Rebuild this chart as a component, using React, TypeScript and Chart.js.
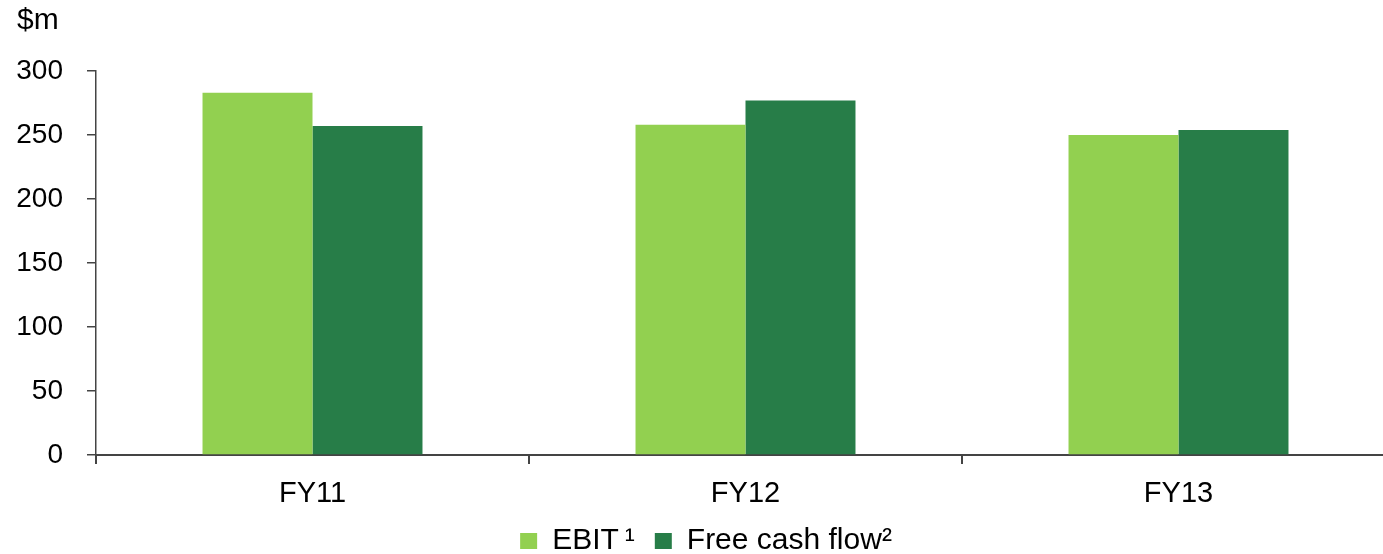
import React, { useEffect, useRef } from "react";
import { Chart, registerables } from "chart.js";

Chart.register(...registerables);

const categories = ["FY11", "FY12", "FY13"];
const ebit = [283, 258, 250];
const freeCashFlow = [257, 277, 254];
const yTicks = [0, 50, 100, 150, 200, 250, 300];

const FONT = "'Liberation Sans', Arial, sans-serif";

export default function App() {
  const ref = useRef<HTMLCanvasElement | null>(null);

  useEffect(() => {
    if (!ref.current) return;
    const chart = new Chart(ref.current, {
      type: "bar",
      data: {
        labels: categories,
        datasets: [
          {
            label: "EBIT\u2009\u00B9",
            data: ebit,
            backgroundColor: "#92D050",
            borderWidth: 0,
            categoryPercentage: 0.508,
            barPercentage: 1,
          },
          {
            label: "Free cash flow\u00B2",
            data: freeCashFlow,
            backgroundColor: "#277D48",
            borderWidth: 0,
            categoryPercentage: 0.508,
            barPercentage: 1,
          },
        ],
      },
      options: {
        animation: false,
        responsive: true,
        maintainAspectRatio: false,
        layout: { padding: { left: 17, right: 5, top: 0, bottom: 0 } },
        plugins: {
          tooltip: { enabled: false },
          title: {
            display: true,
            text: "$m",
            align: "start",
            color: "#000",
            font: { family: FONT, size: 30, weight: "normal" },
            padding: { top: 3, bottom: 32 },
          },
          legend: {
            display: true,
            position: "bottom",
            labels: {
              color: "#000",
              font: { family: FONT, size: 30 },
              boxWidth: 17,
              boxHeight: 16,
              padding: 20,
            },
          },
        },
        scales: {
          x: {
            afterFit: (scale: any) => {
              scale.height = 51;
            },
            grid: {
              display: true,
              drawOnChartArea: false,
              drawTicks: true,
              tickLength: 9,
              color: "#444",
              lineWidth: 2,
              offset: true,
            },
            border: { display: true, color: "#444", width: 2 },
            ticks: {
              color: "#000",
              font: { family: FONT, size: 29 },
              padding: 13,
            },
          },
          y: {
            min: 0,
            max: 300,
            afterFit: (scale: any) => {
              scale.width = 79;
            },
            afterBuildTicks: (scale: any) => {
              scale.ticks = yTicks.map((v) => ({ value: v }));
            },
            grid: {
              display: true,
              drawOnChartArea: false,
              drawTicks: true,
              tickLength: 9,
              color: "#444",
              lineWidth: 1.5,
            },
            border: { display: true, color: "#444", width: 1.5 },
            ticks: {
              color: "#000",
              font: { family: FONT, size: 28 },
              padding: 24,
            },
          },
        },
      },
    });
    return () => chart.destroy();
  }, []);

  return (
    <div
      style={{
        position: "fixed",
        left: 0,
        top: 0,
        width: 1383,
        height: 554,
        overflow: "hidden",
        background: "#fff",
      }}
    >
      <div style={{ position: "relative", width: 1400, height: 566 }}>
        <canvas ref={ref} />
      </div>
    </div>
  );
}
